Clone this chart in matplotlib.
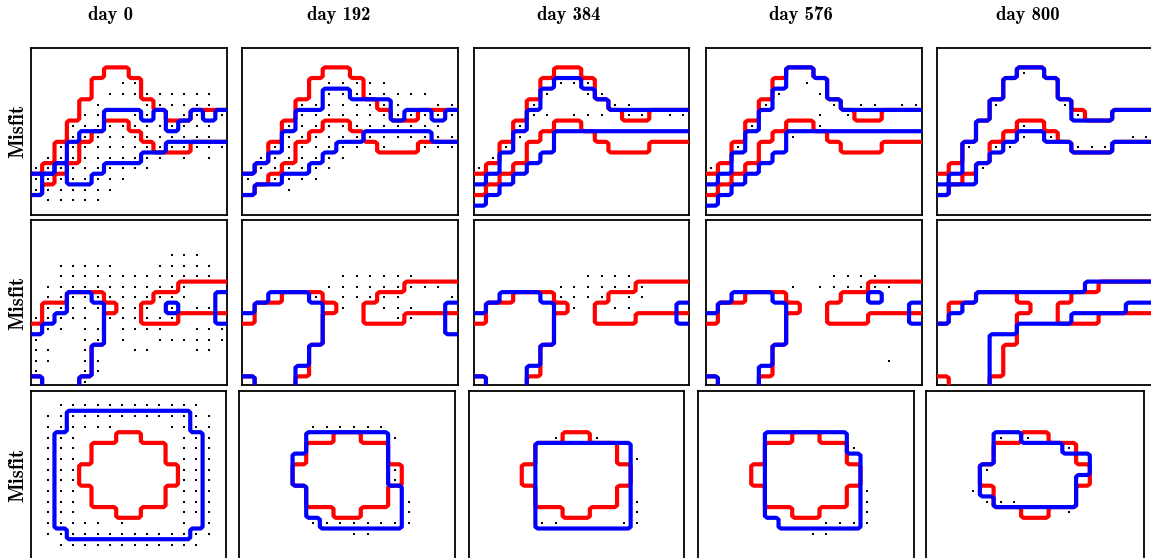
import numpy as np
import matplotlib
matplotlib.use("Agg")
import matplotlib.pyplot as plt

# ------------------------------------------------------------------
# data
# ------------------------------------------------------------------
DAYS = [0, 192, 384, 576, 800]
ROW_LABEL = "Misfit"
NX, NY = 16, 16

# Row 1 (layered channel): interface heights per column (cells below the line)
red1_lower = [2, 3, 4, 5, 7, 8, 9, 9, 8, 7, 6, 6, 6, 7, 7, 7]
red1_upper = [4, 5, 7, 9, 11, 13, 14, 14, 13, 11, 10, 9, 9, 10, 10, 10]

blue1_lower_d0 = [2, 4, 5, 3, 3, 4, 5, 5, 5, 6, 6, 7, 7, 7, 7, 7]
blue1_upper_d0 = [4, 4, 5, 7, 8, 8, 10, 10, 10, 9, 10, 8, 9, 10, 9, 10]
blue1_lower_d192 = [2, 3, 3, 4, 4, 5, 6, 7, 7, 8, 8, 8, 8, 8, 7, 7]
blue1_upper_d192 = [4, 5, 6, 8, 10, 10, 12, 12, 11, 11, 11, 9, 10, 10, 9, 10]
blue1_lower_d384 = [1, 2, 3, 4, 5, 6, 8, 8, 8, 8, 8, 8, 8, 8, 8, 8]
blue1_upper_d384 = [3, 4, 6, 8, 10, 12, 13, 13, 12, 11, 10, 10, 10, 10, 10, 10]
blue1_lower_d576 = [1, 2, 3, 4, 5, 6, 8, 8, 8, 8, 8, 8, 8, 8, 8, 8]
blue1_upper_d576 = [3, 4, 6, 8, 10, 12, 14, 14, 13, 11, 10, 10, 10, 10, 10, 10]
blue1_lower_d800 = [2, 3, 3, 5, 6, 7, 8, 8, 7, 7, 6, 6, 6, 7, 7, 7]
blue1_upper_d800 = [3, 4, 7, 9, 11, 13, 14, 14, 13, 11, 9, 9, 9, 10, 10, 10]

# misfit points of row 1 ('o' = misfit), top line is the top row
misfit1_d0 = [
    "................",
    "................",
    "................",
    ".......oo.......",
    "......ooooooooo.",
    ".....o...oooooo.",
    "....oo..oo..oo.o",
    "...oooooooooooo.",
    "...oooooooooooo.",
    "..oooooooooooooo",
    ".oooooooooo.o.o.",
    "oooooooooo......",
    "oooooooo........",
    "ooooooo.........",
    ".ooooo..........",
    "................",
]
misfit1_d192 = [
    "................",
    "................",
    "................",
    "......ooooo.....",
    "......oooooooo..",
    "....oooooooo..oo",
    "....oooooooooooo",
    "...oooooooooooo.",
    "...ooooooooooooo",
    "..ooooooo.o..ooo",
    ".ooooooo........",
    ".oooooo.........",
    "o.oooo..........",
    "...o............",
    "................",
    "................",
]
misfit1_d384 = [
    "................",
    "................",
    "................",
    "......ooo.......",
    ".....o..oo......",
    "....o.....oo....",
    "....oo.ooo.oo.oo",
    "...o............",
    "...o............",
    "..o.............",
    ".o..............",
    "o...............",
    "................",
    "................",
    "................",
    "................",
]
misfit1_d576 = [
    "................",
    "................",
    "................",
    ".......o........",
    ".....o..o.......",
    "....o....o.oo.oo",
    "........o.o.....",
    "...o....o.......",
    "......o.........",
    "..o.............",
    "................",
    "o...............",
    "................",
    "................",
    "................",
    "................",
]
misfit1_d800 = [
    "................",
    "................",
    "......o.........",
    "................",
    "................",
    "....o....o......",
    "..........o.....",
    "......o.........",
    "......o.o.....oo",
    "..o.oo....ooo...",
    "................",
    "...o............",
    "................",
    "................",
    "................",
    "................",
]

# Row 2 (two channel bodies): reference facies ('r')
red2 = [
    "................",
    "................",
    "................",
    "................",
    "................",
    "................",
    "............rrrr",
    "...rrr....rrrrrr",
    ".rrrrrr..rrrrrrr",
    ".rrrrr...rrr....",
    "rrrrrr..........",
    "rrrrrr..........",
    "rrrrr...........",
    "rrrrr...........",
    "rrrrr...........",
    ".rrr............",
]
# estimated facies per day: 'b' facies, 'o' misfit, 'B' facies with misfit
est2_d0 = [
    "................",
    "................",
    "................",
    "...........ooo..",
    "..ooooo...ooooo.",
    "..ooooooooooooo.",
    ".oooooooooooo...",
    ".ooBBoooooooo..b",
    ".ooBBB.ooo.B.oob",
    "ooBBBboooooo...b",
    ".BBbBB.oooo..ooo",
    "BbbbBB.o..oooooo",
    "BBbbB...oo...oo.",
    "BBbbBo..........",
    "BbbbBo..........",
    ".bbbo...........",
]
est2_d192 = [
    "................",
    "................",
    "................",
    "................",
    "................",
    ".......oooooo...",
    "......ooooooooo.",
    "..bbbo.ooooo...o",
    ".bbbbb.o..ooo..b",
    "bbbbbb.....oo..b",
    "bbbbbb.........b",
    "bbbbbb..........",
    "bbbbb...........",
    "bbbbb...........",
    "bbbb............",
    ".bbb............",
]
est2_d384 = [
    "................",
    "................",
    "................",
    "................",
    "................",
    "........oooo....",
    "......ooooooo...",
    "..bbb.oooo.oo...",
    ".bbbbb.o..oo...b",
    "bbbbbb.........b",
    "bbbbbb..........",
    "bbbbbb..........",
    "bbbbb...........",
    "bbbbb...........",
    "bbbb............",
    ".bbb............",
]
est2_d576 = [
    "................",
    "................",
    "................",
    "................",
    "................",
    ".........oooo...",
    "......o.oooooo..",
    "..bbb.......b...",
    ".bbbbb.........b",
    "bbbbbb.........b",
    "bbbbbb..........",
    "bbbbbb..........",
    "bbbbb...........",
    "bbbbb........o..",
    "bbbb............",
    ".bbb............",
]
est2_d800 = [
    "................",
    "................",
    "................",
    "................",
    "................",
    "................",
    "...........bbbbb",
    "...bbbbbbbbbbbbb",
    "..bbbbbbbbbbbb..",
    ".bbbbbbbbb......",
    "bbbbbb..........",
    "bbbb............",
    "bbbb............",
    "bbbb............",
    "bbbb............",
    "bbbb............",
]

# Row 3 (single body): reference facies
red3 = [
    "................",
    "................",
    "................",
    "................",
    ".......rr.......",
    ".....rrrrrr.....",
    ".....rrrrrr.....",
    "....rrrrrrrr....",
    "....rrrrrrrr....",
    ".....rrrrrr.....",
    ".....rrrrrr.....",
    ".......rr.......",
    "................",
    "................",
    "................",
    "................",
]
est3_d0 = [
    "................",
    "..oooooooooooo..",
    ".ooBBBBBBBBBBoo.",
    ".ooBBBBbbbbBBoo.",
    ".oBBbbbbbbbbBBo.",
    ".oBBbbbbbbbbBBo.",
    ".oBBbbbbbbbbBBo.",
    ".oBBbbbbbbbbBBo.",
    ".oBBbbbbbbbbBBo.",
    ".oBBbbbbbbbbBBo.",
    ".oBBbbbbbbbbBBo.",
    ".oBBbbbbbbbbBBo.",
    ".oBBBBbBbbbbBbo.",
    ".ooBBBBBBBBBBoo.",
    "..oooooooooooo..",
    "................",
]
est3_d192 = [
    "................",
    "................",
    "................",
    ".....oooooo.....",
    ".....bbbbbbo....",
    ".....bbbbbb.....",
    "....bbbbbbb.....",
    "....bbbbbbbo....",
    "....bbbbbbbo....",
    ".....bbbbbbb....",
    ".....bbbbbbbo...",
    ".....bbbbbbbo...",
    ".....oBBBBBBo...",
    "........oo......",
    "................",
    "................",
]
est3_d384 = [
    "................",
    "................",
    "................",
    "................",
    "......o..o......",
    ".....bbbbbbb....",
    ".....bbbbbbbo...",
    ".....bbbbbbb....",
    ".....bbbbbbb....",
    ".....bbbbbbb....",
    ".....bbbbbbbo...",
    ".....bbbbbbbo...",
    ".....BBbbbbBo...",
    "................",
    "................",
    "................",
]
est3_d576 = [
    "................",
    "................",
    "................",
    "................",
    ".....bbbbbb.....",
    ".....bbbbbbo....",
    ".....bbbbbbb....",
    ".....bbbbbbb....",
    ".....bbbbbbb....",
    ".....bbbbbbbo...",
    ".....bbbbbbbo...",
    ".....bbbbbbbo...",
    "......bbbBBBo...",
    "........oo......",
    "................",
    "................",
]
est3_d800 = [
    "................",
    "................",
    "................",
    "................",
    ".....Bbo........",
    ".....bbbbbo.....",
    ".....bbbbbbb....",
    "....Bbbbbbbb....",
    "....bbbbbbb.....",
    "...obbbbbbb.....",
    "....oBBbbbb.....",
    "..........o.....",
    "................",
    "................",
    "................",
    "................",
]

blue1_lower = [blue1_lower_d0, blue1_lower_d192, blue1_lower_d384,
               blue1_lower_d576, blue1_lower_d800]
blue1_upper = [blue1_upper_d0, blue1_upper_d192, blue1_upper_d384,
               blue1_upper_d576, blue1_upper_d800]
misfit1 = [misfit1_d0, misfit1_d192, misfit1_d384, misfit1_d576, misfit1_d800]
est2 = [est2_d0, est2_d192, est2_d384, est2_d576, est2_d800]
est3 = [est3_d0, est3_d192, est3_d384, est3_d576, est3_d800]

# ------------------------------------------------------------------
# helpers
# ------------------------------------------------------------------
RED, BLUE = "#ff0000", "#0000ff"
LW = 3.0
K = 3       # sub-sampling used to trace cell boundaries
PAD = 2


def mask(rows, chars):
    """Grid of strings (top row first) -> array indexed [row_from_bottom, col]."""
    return np.array([[c in chars for c in r] for r in rows[::-1]], dtype=float)


def above(heights):
    j = np.arange(NY)[:, None]
    return (j >= np.asarray(heights)[None, :]).astype(float)


def outline(ax, field, color, z):
    if field.min() == field.max():
        return
    f = np.pad(field, PAD, mode="edge")
    f = np.kron(f, np.ones((K, K)))
    x = (np.arange(f.shape[1]) + 0.5) / K - 0.5 - PAD
    y = (np.arange(f.shape[0]) + 0.5) / K - 0.5 - PAD
    ax.contour(x, y, f, levels=[0.5], colors=[color], linewidths=LW,
               zorder=z)


def misfit_points(ax, field):
    jj, ii = np.nonzero(field)
    ax.scatter(ii, jj, s=4.2, marker="s", color="black", linewidths=0,
               zorder=6)


# ------------------------------------------------------------------
# figure layout (pixels)
# ------------------------------------------------------------------
W, H = 1151, 558
fig = plt.figure(figsize=(W / 100, H / 100), dpi=100)

COLS_TOP = [(31, 226.7), (242.4, 457.7), (473.7, 689.0), (705.6, 921.6),
            (936.5, 1152.0)]
COLS_BOTTOM = [(31, 226.3), (239.3, 455.3), (468.7, 684.0), (698.0, 914.0),
               (926.3, 1143.7)]
ROWS = [(47.7, 214.7), (220.0, 385.3), (391.0, 559.0)]


def make_ax(x0, x1, y0, y1):
    ax = fig.add_axes([x0 / W, 1 - y1 / H, (x1 - x0) / W, (y1 - y0) / H])
    ax.set_xlim(-0.4, NX - 0.58)
    ax.set_ylim(-0.35, NY - 0.65)
    ax.set_xticks([])
    ax.set_yticks([])
    for s in ax.spines.values():
        s.set_linewidth(1.3)
        s.set_color("black")
    return ax


red2_field = mask(red2, "r")
red3_field = mask(red3, "r")

for c in range(5):
    # row 1
    ax = make_ax(*COLS_TOP[c], *ROWS[0])
    outline(ax, above(red1_lower), RED, 3)
    outline(ax, above(red1_upper), RED, 3)
    outline(ax, above(blue1_lower[c]), BLUE, 4)
    outline(ax, above(blue1_upper[c]), BLUE, 4)
    misfit_points(ax, mask(misfit1[c], "o"))

    # row 2
    ax = make_ax(*COLS_TOP[c], *ROWS[1])
    outline(ax, red2_field, RED, 3)
    outline(ax, mask(est2[c], "bB"), BLUE, 4)
    misfit_points(ax, mask(est2[c], "oB"))

    # row 3
    ax = make_ax(*COLS_BOTTOM[c], *ROWS[2])
    outline(ax, red3_field, RED, 3)
    outline(ax, mask(est3[c], "bB"), BLUE, 4)
    misfit_points(ax, mask(est3[c], "oB"))

TITLE_X = [111, 339, 569, 801, 1028]
for d, x in zip(DAYS, TITLE_X):
    fig.text(x / W, 1 - 15 / H, f"day {d}", ha="center", va="center",
             family="cmb10", fontsize=13.5)

for y0, y1 in ROWS:
    yc = (y0 + min(y1, H)) / 2
    fig.text(18 / W, 1 - yc / H, ROW_LABEL, rotation=90, ha="center",
             va="center", family="cmb10", fontsize=15)

fig.savefig("out.png", dpi=100)
